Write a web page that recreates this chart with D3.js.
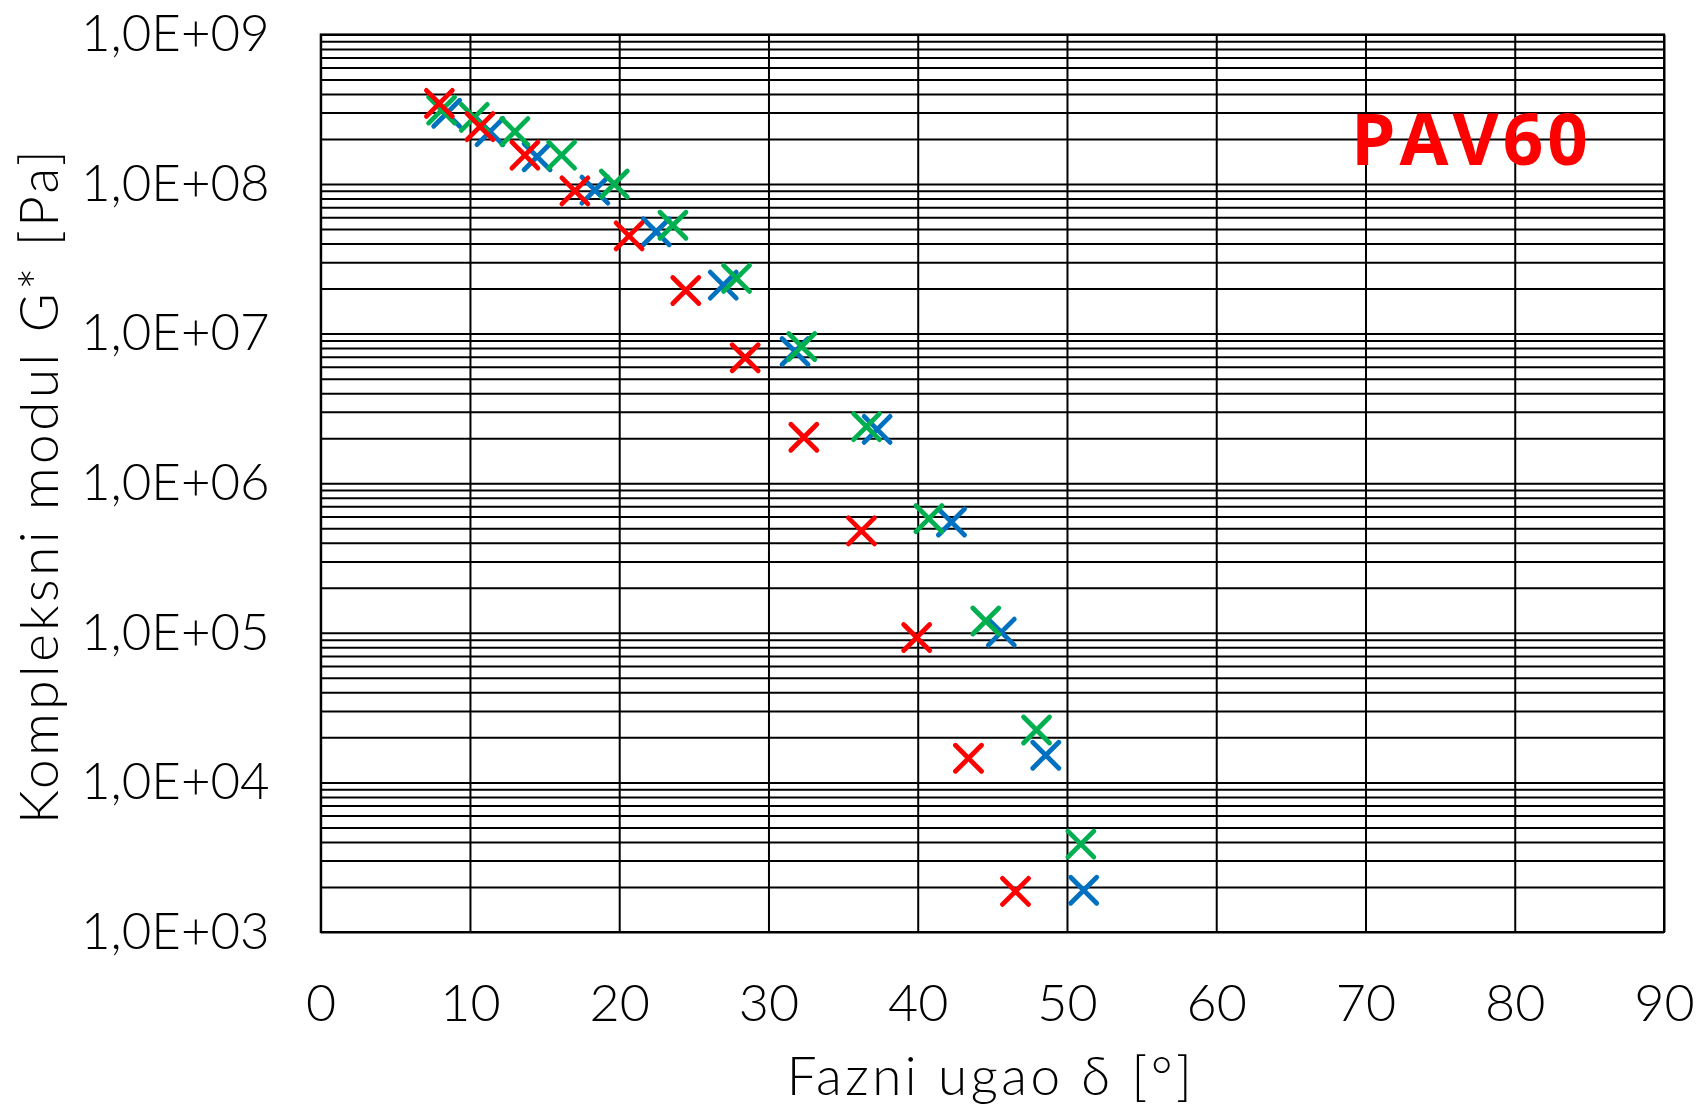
<!DOCTYPE html>
<html>
<head>
<meta charset="utf-8">
<script src="https://cdn.jsdelivr.net/npm/d3@7"></script>
<style>
  body { margin: 0; background: #fff; }
  text { font-family: "Lato", "Open Sans", sans-serif; font-weight: 300; fill: #000; }
</style>
</head>
<body>
<svg id="chart"></svg>
<script>
// phase angle [deg] and complex modulus [Pa]
var red_delta = [7.95, 10.67, 13.68, 17.03, 20.66, 24.46, 28.44, 32.37, 36.23, 39.93, 43.4, 46.55];
var red_g = [3.46e8, 2.42e8, 1.56e8, 9.0e7, 4.5e7, 1.94e7, 6.9e6, 2.03e6, 4.8e5, 9.3e4, 1.45e4, 1.87e3];

var blue_delta = [8.44, 11.34, 14.5, 18.37, 22.48, 26.97, 31.78, 37.28, 42.26, 45.6, 48.58, 51.12];
var blue_g = [2.97e8, 2.24e8, 1.52e8, 9.1e7, 4.8e7, 2.11e7, 7.6e6, 2.29e6, 5.5e5, 1.01e5, 1.52e4, 1.9e3];

var green_delta = [8.1, 10.29, 13.01, 16.14, 19.67, 23.6, 27.86, 32.23, 36.57, 40.75, 44.56, 47.96, 50.93];
var green_g = [3.12e8, 2.79e8, 2.24e8, 1.56e8, 1.0e8, 5.3e7, 2.34e7, 8.2e6, 2.39e6, 5.8e5, 1.2e5, 2.24e4, 3.87e3];

var x_ticks = [0, 10, 20, 30, 40, 50, 60, 70, 80, 90];
var y_ticks = [1e3, 1e4, 1e5, 1e6, 1e7, 1e8, 1e9];

var series = [
  {name: "blue", color: "#0070C0", delta: blue_delta, g: blue_g},
  {name: "green", color: "#00B050", delta: green_delta, g: green_g},
  {name: "red", color: "#FF0000", delta: red_delta, g: red_g}
];

var total_width = 1700, total_height = 1106;
var margin = {top: 34.4, right: 36, bottom: 174, left: 320.7};
var width = total_width - margin.left - margin.right,
    height = total_height - margin.top - margin.bottom;

var svg = d3.select("#chart")
    .attr("width", total_width)
    .attr("height", total_height);

svg.append("rect").attr("width", total_width).attr("height", total_height).attr("fill", "#fff");

var chart = svg.append("g")
    .attr("transform", "translate(" + margin.left + "," + margin.top + ")");

var x_scaler = d3.scaleLinear().domain([0, 90]).range([0, width]);
var y_scaler = d3.scaleLog().domain([1e3, 1e9]).range([height, 0]);

// grid lines
chart.append("g")
  .attr("class", "grid")
  .call(d3.axisLeft(y_scaler).tickValues(y_scaler.ticks()).tickSize(-width).tickFormat(""))
  .call(function(g) { g.select(".domain").remove(); });

chart.append("g")
  .attr("class", "grid")
  .attr("transform", "translate(0," + height + ")")
  .call(d3.axisBottom(x_scaler).tickValues(x_ticks).tickSize(-height).tickFormat(""))
  .call(function(g) { g.select(".domain").remove(); });

chart.selectAll(".grid line")
  .attr("stroke", "#000")
  .attr("stroke-width", 2);

chart.append("rect")
  .attr("width", width)
  .attr("height", height)
  .attr("fill", "none")
  .attr("stroke", "#000")
  .attr("stroke-width", 2);

// tick labels
function expLabel(d) {
  var e = Math.round(Math.log10(d));
  return "1,0E+" + (e < 10 ? "0" : "") + e;
}

var y_axis = chart.append("g")
  .call(d3.axisLeft(y_scaler).tickValues(y_ticks).tickSize(0).tickPadding(51).tickFormat(expLabel));
y_axis.select(".domain").remove();
y_axis.selectAll("text")
  .attr("font-family", null).attr("font-size", null)
  .style("font-size", "51px");

var x_axis = chart.append("g")
  .attr("transform", "translate(0," + height + ")")
  .call(d3.axisBottom(x_scaler).tickValues(x_ticks).tickSize(0).tickPadding(52).tickFormat(d3.format("d")));
x_axis.select(".domain").remove();
x_axis.selectAll("text")
  .attr("font-family", null).attr("font-size", null)
  .style("font-size", "52px");

// axis titles
svg.append("text")
  .attr("transform", "translate(58," + (margin.top + 451) + ") rotate(-90)")
  .attr("text-anchor", "middle")
  .style("font-size", "53px")
  .style("letter-spacing", "3.5px")
  .text("Kompleksni modul G* [Pa]");

svg.append("text")
  .attr("x", 991)
  .attr("y", 1095)
  .attr("text-anchor", "middle")
  .style("font-size", "53px")
  .style("letter-spacing", "3.5px")
  .text("Fazni ugao \u03b4 [\u00b0]");

// sample label
chart.append("text")
  .attr("x", x_scaler(77.1))
  .attr("y", y_scaler(1.34e8))
  .attr("text-anchor", "middle")
  .style("font-family", "'Open Sans', sans-serif")
  .style("font-weight", "700")
  .style("font-size", "71px")
  .style("letter-spacing", "4px")
  .style("fill", "#FF0000")
  .text("PAV60");

// x markers
var arm = 13;
series.forEach(function(s) {
  var pts = s.delta.map(function(d, i) { return {x: d, y: s.g[i]}; });
  chart.append("g").attr("class", "series-" + s.name)
    .selectAll("path")
    .data(pts)
    .enter()
    .append("path")
    .attr("transform", function(d) { return "translate(" + x_scaler(d.x) + "," + y_scaler(d.y) + ")"; })
    .attr("d", "M" + (-arm) + "," + (-arm) + "L" + arm + "," + arm + "M" + (-arm) + "," + arm + "L" + arm + "," + (-arm))
    .attr("fill", "none")
    .attr("stroke", s.color)
    .attr("stroke-width", 4.8)
    .attr("stroke-linecap", "round");
});
</script>
</body>
</html>
